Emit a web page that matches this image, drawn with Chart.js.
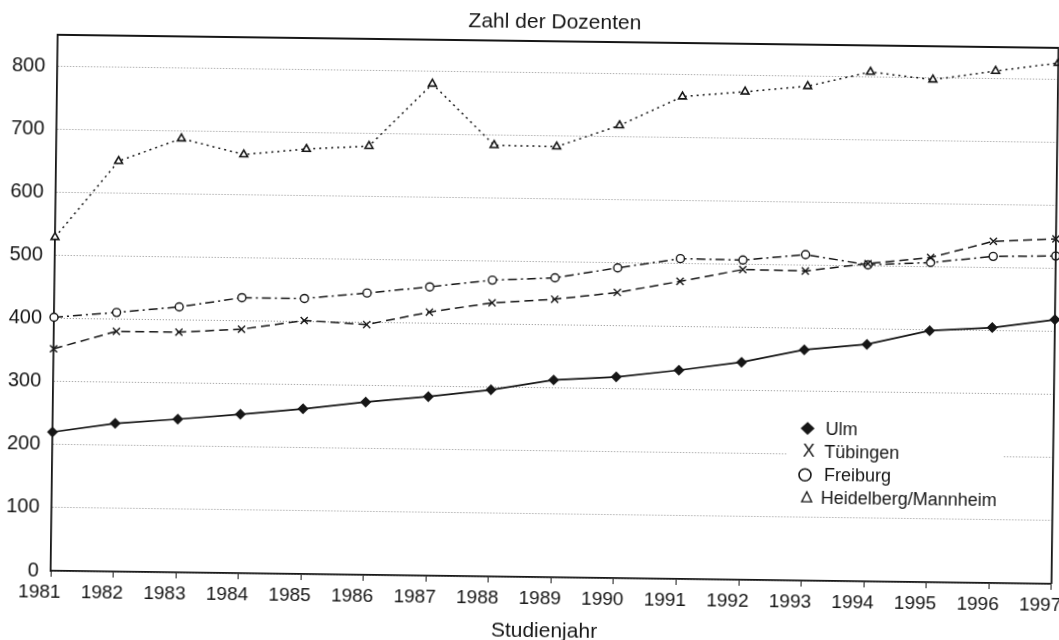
<!DOCTYPE html>
<html>
<head>
<meta charset="utf-8">
<script src="https://cdn.jsdelivr.net/npm/chart.js@4.4.1/dist/chart.umd.min.js"></script>
<style>
  html, body { margin: 0; padding: 0; background: #fff; overflow: hidden; width: 1059px; height: 640px; }
  #wrap { position: absolute; left: 0; top: 0; width: 1080px; height: 640px;
          transform: rotate(0.75deg); transform-origin: 529.5px 320px; background: #fff; }
  canvas { display: block; }
</style>
</head>
<body>
<div id="wrap"><canvas id="c" width="1080" height="640" style="width:1080px;height:640px"></canvas></div>
<script>
// ---- data ----
const years = ['1981','1982','1983','1984','1985','1986','1987','1988','1989','1990','1991','1992','1993','1994','1995','1996','1997'];
const ulm        = [220, 235, 243, 252, 262, 274, 284, 296, 313, 319, 331, 345, 366, 376, 399, 405, 419];
const tuebingen  = [352, 381, 381, 387, 402, 397, 418, 434, 441, 453, 472, 492, 491, 504, 515, 542, 547];
const freiburg   = [402, 411, 421, 437, 437, 447, 458, 470, 475, 492, 508, 507, 517, 502, 507, 518, 520];
const heidelberg = [529, 651, 688, 664, 674, 680, 780, 684, 683, 718, 765, 774, 784, 808, 797, 812, 826];
const seriesNames = ['Ulm', 'Tübingen', 'Freiburg', 'Heidelberg/Mannheim'];
const chartTitle = 'Zahl der Dozenten';
const xTitle = 'Studienjahr';

const FONT = '"Liberation Sans", Arial, Helvetica, sans-serif';
const INK = '#161616';
Chart.defaults.font.family = FONT;
Chart.defaults.color = INK;

const framePlugin = {
  id: 'frame',
  afterDraw(chart) {
    const {ctx, chartArea: a} = chart;
    ctx.save();
    // top and right borders
    ctx.strokeStyle = INK;
    ctx.lineWidth = 1.8;
    ctx.beginPath();
    ctx.moveTo(a.left, a.top);
    ctx.lineTo(a.right, a.top);
    ctx.lineTo(a.right, a.bottom);
    ctx.stroke();
    // titles
    ctx.fillStyle = INK;
    ctx.textAlign = 'center';
    ctx.textBaseline = 'alphabetic';
    ctx.font = '21px ' + FONT;
    ctx.fillText(chartTitle, 551, 28);
    ctx.font = '21px ' + FONT;
    ctx.fillText(xTitle, 548, 637);
    // legend
    const bx = 788, by = 409, bw = 216, bh = 98;
    ctx.fillStyle = '#fff';
    ctx.fillRect(bx, by, bw, bh);
    const rows = [424.7, 448, 471.3, 493.6];
    const mx = 809;
    ctx.fillStyle = INK;
    ctx.strokeStyle = INK;
    // diamond
    ctx.beginPath();
    ctx.moveTo(mx, rows[0] - 6.5);
    ctx.lineTo(mx + 7, rows[0]);
    ctx.lineTo(mx, rows[0] + 6.5);
    ctx.lineTo(mx - 7, rows[0]);
    ctx.closePath();
    ctx.fill();
    // X
    ctx.font = '18px ' + FONT;
    ctx.textAlign = 'center';
    ctx.textBaseline = 'middle';
    ctx.fillText('X', mx + 1.5, rows[1]);
    // circle
    ctx.lineWidth = 1.6;
    ctx.beginPath();
    ctx.arc(mx - 2, rows[2], 6, 0, Math.PI * 2);
    ctx.stroke();
    // triangle
    ctx.lineWidth = 1.3;
    ctx.beginPath();
    ctx.moveTo(mx, rows[3] - 5.5);
    ctx.lineTo(mx + 5, rows[3] + 4.5);
    ctx.lineTo(mx - 5, rows[3] + 4.5);
    ctx.closePath();
    ctx.stroke();
    // labels
    ctx.textAlign = 'left';
    ctx.font = '18px ' + FONT;
    const tx = [827, 826, 826, 823];
    seriesNames.forEach((n, i) => ctx.fillText(n, tx[i], rows[i] + 1));
    ctx.restore();
  }
};

const common = { borderColor: INK, borderWidth: 1.5, pointBorderColor: INK, pointBorderWidth: 1.4, tension: 0, fill: false };

new Chart(document.getElementById('c'), {
  type: 'line',
  data: {
    labels: years,
    datasets: [
      Object.assign({}, common, { label: seriesNames[0], data: ulm, pointStyle: 'rectRot', pointRadius: 4.5, pointBackgroundColor: INK, borderWidth: 1.7 }),
      Object.assign({}, common, { label: seriesNames[1], data: tuebingen, pointStyle: 'crossRot', pointRadius: 5, pointBackgroundColor: '#fff', borderDash: [9, 5] }),
      Object.assign({}, common, { label: seriesNames[2], data: freiburg, pointStyle: 'circle', pointRadius: 4, pointBackgroundColor: '#fff', borderDash: [9, 4, 2, 4] }),
      Object.assign({}, common, { label: seriesNames[3], data: heidelberg, pointStyle: 'triangle', pointRadius: 4.5, pointBackgroundColor: '#fff', borderDash: [2, 4], pointBorderWidth: 1.6 })
    ]
  },
  options: {
    responsive: false,
    animation: false,
    devicePixelRatio: 1,
    layout: { padding: { top: 41, right: 23, left: 0, bottom: 0 } },
    plugins: { legend: { display: false }, title: { display: false }, tooltip: { enabled: false } },
    scales: {
      x: {
        offset: false,
        grid: { drawOnChartArea: false, drawTicks: true, tickLength: 6, tickColor: INK, tickWidth: 1 },
        border: { display: true, color: INK, width: 1.8 },
        ticks: { font: { size: 19 }, color: INK, padding: 4, maxRotation: 0, autoSkip: false, labelOffset: -11 },
        afterFit(s) { s.height = 63; }
      },
      y: {
        min: 0, max: 850,
        grid: { drawTicks: false, color: (c) => (c.tick && c.tick.value > 800) ? 'rgba(0,0,0,0)' : '#8a8a8a', lineWidth: 1 },
        border: { display: true, color: INK, width: 1.8, dash: [1, 2] },
        ticks: { stepSize: 100, font: { size: 20 }, color: INK, padding: 12, callback: (v) => v > 800 ? '' : v },
        afterFit(s) { s.width = 54; }
      }
    }
  },
  plugins: [framePlugin]
});
</script>
</body>
</html>
